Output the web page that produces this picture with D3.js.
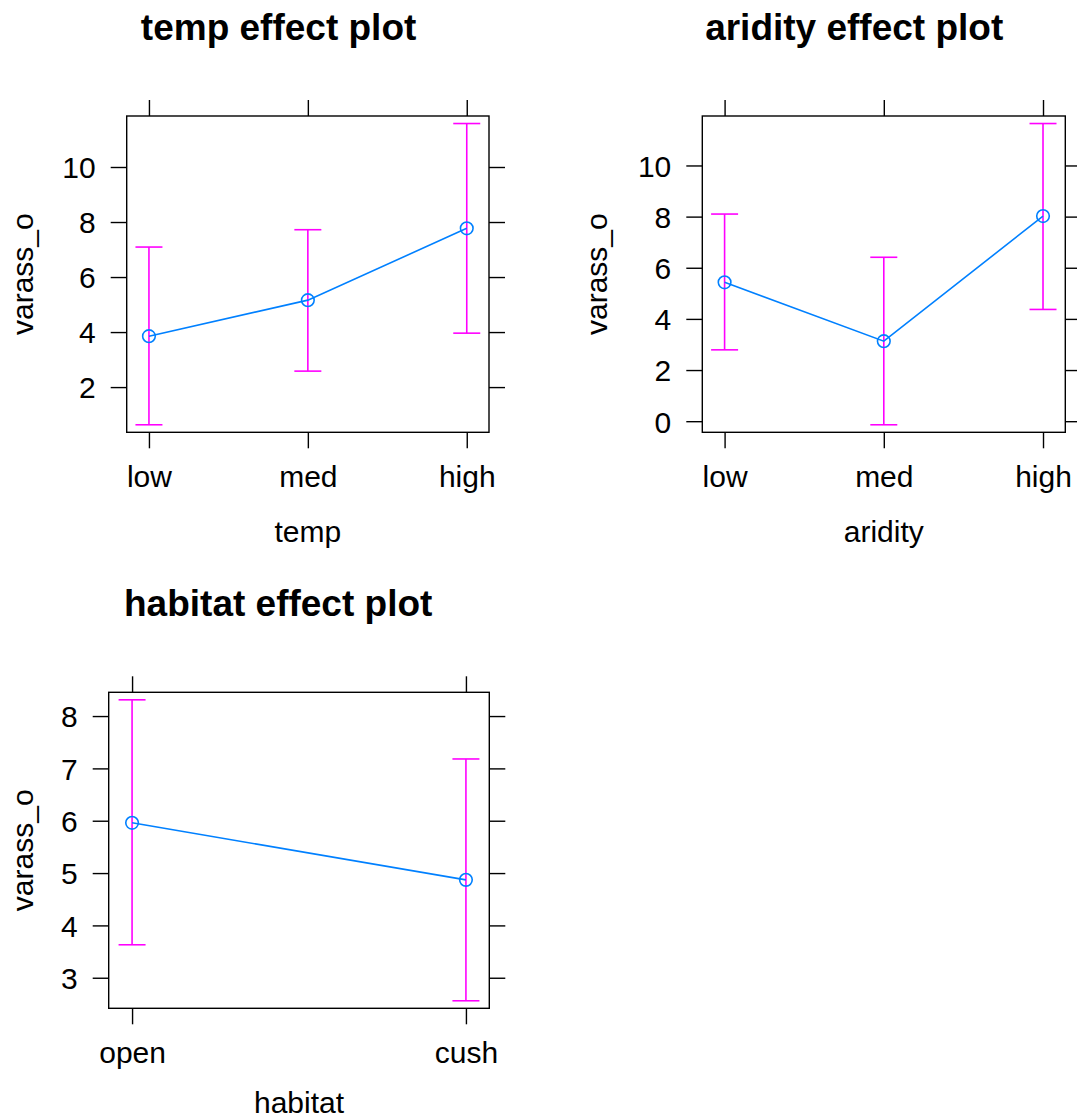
<!DOCTYPE html>
<html>
<head>
<meta charset="utf-8">
<script src="https://cdn.jsdelivr.net/npm/d3@7"></script>
<style>
  html, body { margin: 0; padding: 0; background: #fff; }
  svg { display: block; }
  text { font-family: "Liberation Sans", Arial, Helvetica, sans-serif; fill: #000; }
</style>
</head>
<body>
<svg id="chart" width="1077" height="1120"></svg>
<script>
// ---- data ----
const tempCategories = ["low", "med", "high"];
const tempFit   = [3.85, 5.16, 7.77];
const tempLower = [0.63, 2.58, 3.96];
const tempUpper = [7.09, 7.72, 11.58];
const tempTicks = [2, 4, 6, 8, 10];

const aridityCategories = ["low", "med", "high"];
const aridityFit   = [5.43, 3.13, 8.02];
const aridityLower = [2.79, -0.14, 4.37];
const aridityUpper = [8.10, 6.41, 11.64];
const aridityTicks = [0, 2, 4, 6, 8, 10];

const habitatCategories = ["open", "cush"];
const habitatFit   = [5.96, 4.87];
const habitatLower = [3.63, 2.56];
const habitatUpper = [8.31, 7.18];
const habitatTicks = [3, 4, 5, 6, 7, 8];

const responseName = "varass_o";

// ---- layout ----
const panels = [
  { title: "temp effect plot", xName: "temp", cats: tempCategories, fit: tempFit, lo: tempLower, hi: tempUpper, ticks: tempTicks,
    x0: 126.7, x1: 489, y0: 116, y1: 432.3, titleX: 278.6, ylabX: 33, xlabDy: 110 },
  { title: "aridity effect plot", xName: "aridity", cats: aridityCategories, fit: aridityFit, lo: aridityLower, hi: aridityUpper, ticks: aridityTicks,
    x0: 702.3, x1: 1065.3, y0: 116, y1: 432.3, titleX: 854.2, ylabX: 607, xlabDy: 110 },
  { title: "habitat effect plot", xName: "habitat", cats: habitatCategories, fit: habitatFit, lo: habitatLower, hi: habitatUpper, ticks: habitatTicks,
    x0: 108.7, x1: 489.3, y0: 692.3, y1: 1008.3, titleX: 278.2, ylabX: 33, xlabDy: 105 }
];

const svg = d3.select("#chart");
const BLUE = "#0080ff", MAGENTA = "#ff00ff";
const TICK = 16, LW = 1.4, FS = 30;

panels.forEach(p => {
  const n = p.cats.length;
  const xpad = 0.07 * (n - 1);
  const x = d3.scaleLinear().domain([-xpad, n - 1 + xpad]).range([p.x0, p.x1]);
  const ext = [d3.min(p.lo), d3.max(p.hi)];
  const ypad = 0.025 * (ext[1] - ext[0]);
  const y = d3.scaleLinear().domain([ext[0] - ypad, ext[1] + ypad]).range([p.y1, p.y0]);
  const idx = d3.range(n);

  const g = svg.append("g");

  // title
  g.append("text")
    .attr("x", p.titleX).attr("y", p.y0 - 76.5)
    .attr("text-anchor", "middle")
    .style("font-size", "37px").style("font-weight", "bold")
    .text(p.title);

  // axes
  const styleAxis = sel => {
    sel.select(".domain").remove();
    sel.selectAll(".tick line").attr("stroke", "#000").attr("stroke-width", LW);
    sel.selectAll(".tick text").style("font-size", FS + "px")
      .style("font-family", '"Liberation Sans", Arial, sans-serif').attr("fill", "#000");
  };

  const left = g.append("g").attr("transform", `translate(${p.x0},0)`)
    .call(d3.axisLeft(y).tickValues(p.ticks).tickSize(TICK).tickSizeOuter(0).tickPadding(15).tickFormat(d3.format("d")));
  styleAxis(left);
  left.selectAll(".tick text").attr("dy", "0.36em");

  const right = g.append("g").attr("transform", `translate(${p.x1},0)`)
    .call(d3.axisRight(y).tickValues(p.ticks).tickSize(TICK).tickSizeOuter(0).tickFormat(""));
  styleAxis(right);

  const top = g.append("g").attr("transform", `translate(0,${p.y0})`)
    .call(d3.axisTop(x).tickValues(idx).tickSize(TICK).tickSizeOuter(0).tickFormat(""));
  styleAxis(top);

  const bottom = g.append("g").attr("transform", `translate(0,${p.y1})`)
    .call(d3.axisBottom(x).tickValues(idx).tickSize(TICK).tickSizeOuter(0).tickFormat(i => p.cats[i]));
  styleAxis(bottom);
  bottom.selectAll(".tick text").attr("y", 55).attr("dy", "0");

  // frame
  g.append("rect")
    .attr("x", p.x0).attr("y", p.y0)
    .attr("width", p.x1 - p.x0).attr("height", p.y1 - p.y0)
    .attr("fill", "none").attr("stroke", "#000").attr("stroke-width", LW);

  // axis titles
  g.append("text")
    .attr("x", (p.x0 + p.x1) / 2).attr("y", p.y1 + p.xlabDy)
    .attr("text-anchor", "middle").style("font-size", FS + "px")
    .text(p.xName);
  g.append("text")
    .attr("transform", `translate(${p.ylabX},${(p.y0 + p.y1) / 2}) rotate(-90)`)
    .attr("text-anchor", "middle").style("font-size", FS + "px")
    .text(responseName);

  // error bars
  const eb = g.append("g").attr("stroke", MAGENTA).attr("stroke-width", 1.6).attr("fill", "none");
  eb.selectAll("line.v").data(idx).join("line").attr("class", "v")
    .attr("x1", i => x(i)).attr("x2", i => x(i))
    .attr("y1", i => y(p.lo[i])).attr("y2", i => y(p.hi[i]));
  eb.selectAll("line.cl").data(idx).join("line").attr("class", "cl")
    .attr("x1", i => x(i) - 13.5).attr("x2", i => x(i) + 13.5)
    .attr("y1", i => y(p.lo[i])).attr("y2", i => y(p.lo[i]));
  eb.selectAll("line.ch").data(idx).join("line").attr("class", "ch")
    .attr("x1", i => x(i) - 13.5).attr("x2", i => x(i) + 13.5)
    .attr("y1", i => y(p.hi[i])).attr("y2", i => y(p.hi[i]));

  // fit line + points
  g.append("path")
    .datum(idx)
    .attr("fill", "none").attr("stroke", BLUE).attr("stroke-width", 1.6)
    .attr("d", d3.line().x(i => x(i)).y(i => y(p.fit[i])));
  g.selectAll("circle.pt").data(idx).join("circle").attr("class", "pt")
    .attr("cx", i => x(i)).attr("cy", i => y(p.fit[i])).attr("r", 6.3)
    .attr("fill", "none").attr("stroke", BLUE).attr("stroke-width", 1.6);
});
</script>
</body>
</html>
